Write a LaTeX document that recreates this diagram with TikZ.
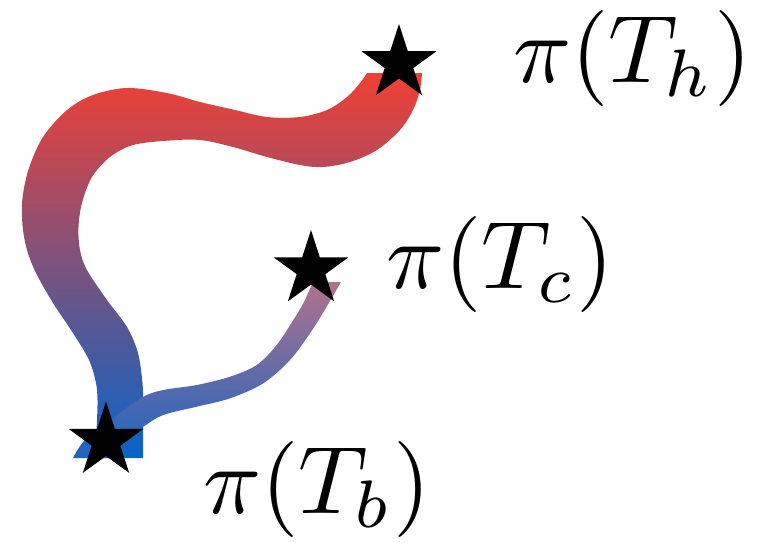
\documentclass[tikz,border=0pt]{standalone}
\usetikzlibrary{shapes.geometric}
\usepackage{graphicx}
\definecolor{bandtop}{RGB}{240,64,52}
\definecolor{bandbot}{RGB}{8,100,200}
\definecolor{smalltop}{RGB}{178,114,140}
\definecolor{smallbot}{RGB}{25,100,195}
\begin{document}
\begin{tikzpicture}[x=1pt,y=-1pt,
  starnode/.style={star, star points=5, star point ratio=2.618, fill=black,
    minimum size=78.8pt, inner sep=0pt},
  lab/.style={anchor=base west, inner sep=0pt},
  bigband/.style={top color=bandtop, bottom color=bandbot},
  smallband/.style={top color=smalltop, bottom color=smallbot}]
\useasboundingbox (0,0) rectangle (764,542);

% large band
\shade[bigband]
  plot[smooth, tension=0.55] coordinates {(95,458) (97,420) (97.5,400) (96,383) (89,360) (73,333) (53,303) (36,273) (27,250) (22.5,225) (22.5,198) (29,168) (43,137) (67,110) (93,95) (127,88) (167,93) (200,102) (233,109.5) (267,117) (300,117) (327,110) (347,97) (360,83) (367,73)}
  -- plot[smooth, tension=0.55] coordinates {(422,73) (420,90) (413,110) (400,130) (377,150) (350,162) (323,167) (300,165) (267,157) (233,147) (200,140) (167,140.7) (133,145) (110,157) (92,177) (82,203) (78.5,227) (80,250) (87,270) (107,300) (127,327) (138,353) (142.5,383) (143,400)}
  -- (143,458) -- cycle;

% small band
\shade[smallband]
  plot[smooth, tension=0.55] coordinates {(73,458) (85,440) (113,418) (143,397) (163.3,390) (196.7,385) (230,376.7) (256.7,365) (276.7,345) (293.3,320) (303.3,303.3) (309,291) (313,282)}
  -- plot[smooth, tension=0.55] coordinates {(341,282) (326.7,306.7) (310,333.3) (290,360) (263.3,383.3) (230,398.3) (196.7,406.7) (163.3,415) (143.3,426.7) (120,443) (105,458)}
  -- cycle;

% stars
\node[starnode] (h) at (399,63.4) {};
\node[starnode] (c) at (311,269.5) {};
\node[starnode] (b) at (106,441) {};

% labels
\node[lab] (lh) at (513,82.5) {\scalebox{9.6}{$\pi(T_h)$}};
\node[lab] (lc) at (386,288) {\scalebox{9.6}{$\pi(T_c)$}};
\node[lab] (lb) at (203,513) {\scalebox{9.6}{$\pi(T_b)$}};
\end{tikzpicture}
\end{document}
